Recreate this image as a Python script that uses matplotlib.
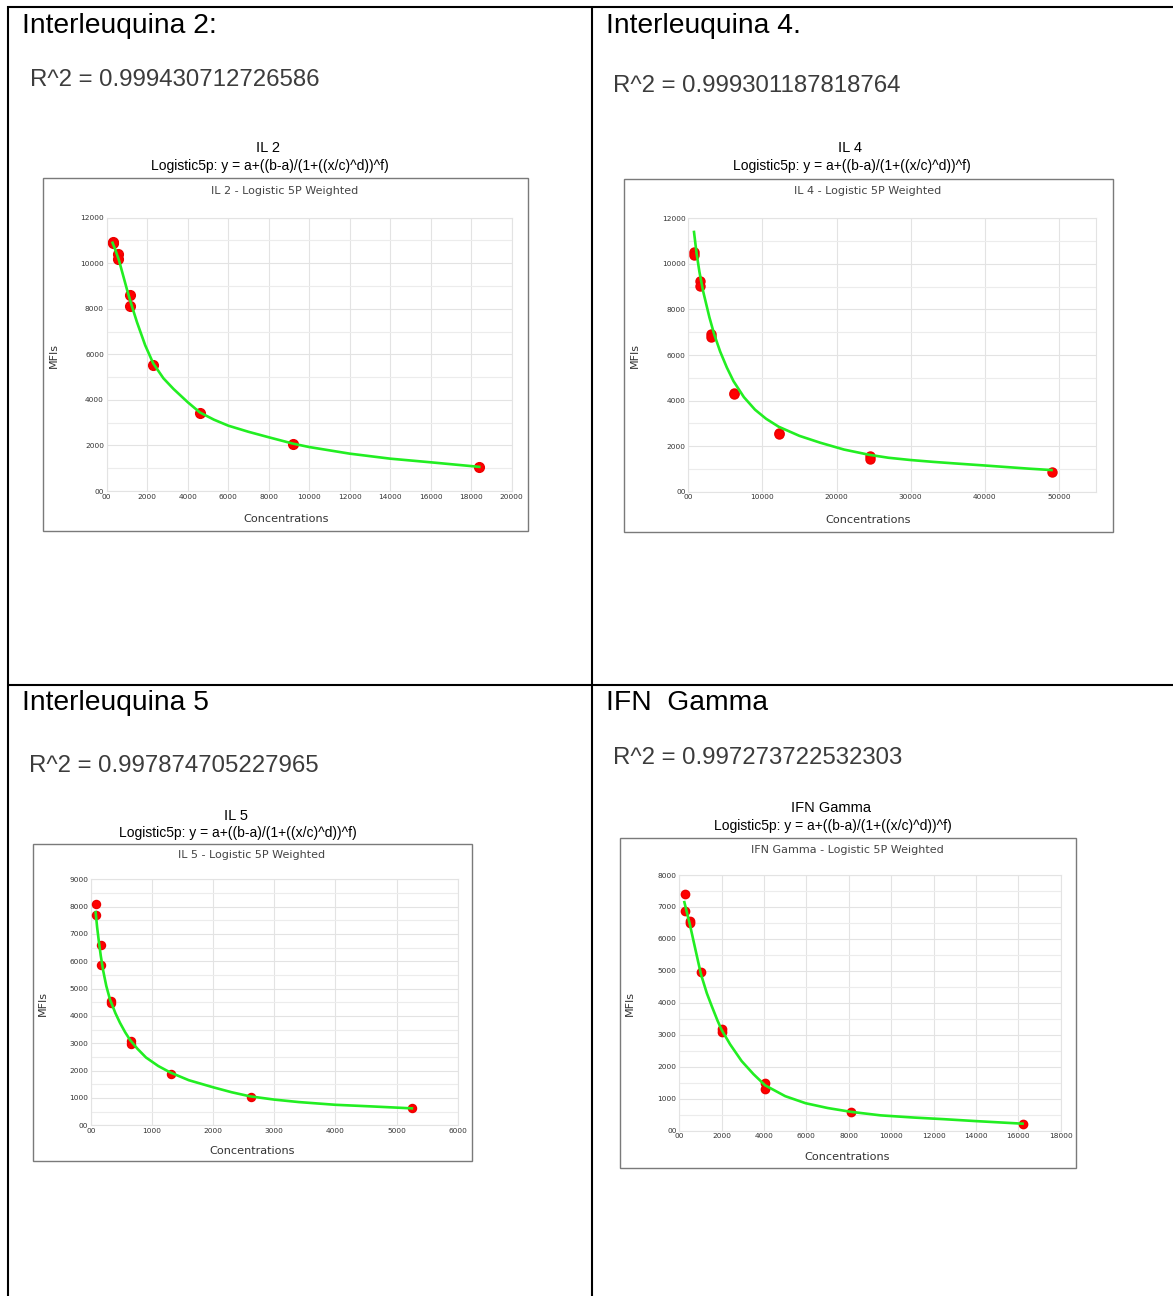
import matplotlib
matplotlib.use("Agg")
import matplotlib.pyplot as plt
from matplotlib.patches import Rectangle
from matplotlib.ticker import MultipleLocator, FuncFormatter

W, H = 1173, 1296

# IL 2
il2_conc = [288, 288, 575, 575, 1150, 1150, 2300, 4600, 9200, 18400]
il2_mfi = [10930, 10880, 10420, 10170, 8600, 8120, 5550, 3420, 2050, 1070]
il2_fit_x = [290, 400, 500, 600, 800, 1000, 1250, 1500, 1900, 2300, 2800, 3300, 4000,
             4600, 5300, 6000, 7000, 8000, 9200, 10000, 12000, 14000, 16000, 18400]
il2_fit_y = [10900, 10650, 10400, 10150, 9500, 8850, 8100, 7400, 6400, 5600, 4950, 4480, 3900,
             3450, 3130, 2870, 2600, 2360, 2080, 1930, 1640, 1420, 1260, 1060]
il2_r2 = "R^2 = 0.999430712726586"

# IL 4
il4_conc = [766, 766, 1531, 1531, 3062, 3062, 6125, 6125, 12250, 12250, 24500, 24500, 49000]
il4_mfi = [10520, 10380, 9230, 9050, 6900, 6780, 4340, 4280, 2580, 2540, 1560, 1440, 870]
il4_fit_x = [770, 1100, 1500, 2000, 2850, 3500, 4300, 5200, 6100, 7500, 9000, 10500, 12200,
             15000, 17800, 21000, 24400, 27000, 30000, 33000, 36000, 40000, 43000, 46000, 49000]
il4_fit_y = [11400, 10500, 9650, 8800, 7650, 6900, 6150, 5450, 4850, 4150, 3600, 3200, 2850,
             2450, 2150, 1850, 1620, 1490, 1390, 1310, 1240, 1150, 1080, 1010, 950]
il4_r2 = "R^2 = 0.999301187818764"

# IL 5
il5_conc = [82, 82, 164, 164, 328, 328, 656, 656, 1312, 2625, 5250]
il5_mfi = [8100, 7680, 6600, 5850, 4540, 4480, 3080, 2990, 1880, 1040, 620]
il5_fit_x = [76, 100, 130, 160, 200, 250, 311, 400, 474, 560, 640, 760, 900, 1100, 1300,
             1600, 2000, 2300, 2600, 3000, 3400, 4000, 4600, 5250]
il5_fit_y = [7800, 7250, 6700, 6200, 5650, 5100, 4600, 4100, 3750, 3400, 3120, 2800, 2480, 2170, 1930,
             1650, 1390, 1210, 1060, 940, 850, 750, 690, 620]
il5_r2 = "R^2 = 0.997874705227965"

# IFN Gamma
ifn_conc = [253, 253, 506, 506, 1012, 2025, 2025, 4050, 4050, 8100, 16200]
ifn_mfi = [7420, 6870, 6560, 6490, 4960, 3170, 3100, 1480, 1320, 600, 220]
ifn_fit_x = [240, 350, 500, 700, 1020, 1300, 1530, 1800, 2000, 2400, 2940, 3500, 4050,
             5000, 5960, 7000, 8100, 9500, 11100, 12500, 14000, 16200]
ifn_fit_y = [7150, 6850, 6450, 5850, 4900, 4300, 3900, 3450, 3150, 2700, 2180, 1770, 1420,
             1080, 860, 710, 590, 480, 410, 360, 300, 220]
ifn_r2 = "R^2 = 0.997273722532303"

fig = plt.figure(figsize=(W / 100, H / 100), dpi=100)
plt.rcParams["font.family"] = ["Liberation Sans", "DejaVu Sans"]

bg = fig.add_axes([0, 0, 1, 1])
bg.set_xlim(0, W)
bg.set_ylim(H, 0)
bg.axis("off")

# table lines
for x in [8, 592]:
    bg.plot([x, x], [6, H], color="black", lw=1.5, solid_capstyle="butt")
for y in [7, 685]:
    bg.plot([7, W], [y, y], color="black", lw=1.5, solid_capstyle="butt")


def px_axes(x0, y0, x1, y1):
    return [x0 / W, 1 - y1 / H, (x1 - x0) / W, (y1 - y0) / H]


panels = [
    dict(heading="Interleuquina 2:", hx=22, hy=26, r2=il2_r2, rx=30, ry=80,
         name="IL 2", nx=268, ny=148, ly=166,
         box=(43, 178, 528, 531), ax=(106.7, 217.7, 511.7, 491),
         xs=il2_conc, ys=il2_mfi, fx=il2_fit_x, fy=il2_fit_y,
         xlim=20000, xstep=2000, ylim=12000, ystep=2000, ms=7,
         title_xy=(285, 191), xl_xy=(286, 519), yl_xy=(54, 355)),
    dict(heading="Interleuquina 4.", hx=606, hy=26, r2=il4_r2, rx=613, ry=86,
         name="IL 4", nx=850, ny=148, ly=166,
         box=(624, 179, 1113, 532), ax=(688.3, 218.3, 1096, 491.7),
         xs=il4_conc, ys=il4_mfi, fx=il4_fit_x, fy=il4_fit_y,
         xlim=55000, xstep=10000, ylim=12000, ystep=2000, ms=6.5,
         title_xy=(868, 191), xl_xy=(868, 520), yl_xy=(635, 355)),
    dict(heading="Interleuquina 5", hx=22, hy=703, r2=il5_r2, rx=29, ry=766,
         name="IL 5", nx=236, ny=816, ly=833,
         box=(33, 844, 472, 1161), ax=(91, 879.3, 457.7, 1125.3),
         xs=il5_conc, ys=il5_mfi, fx=il5_fit_x, fy=il5_fit_y,
         xlim=6000, xstep=1000, ylim=9000, ystep=1000, ms=5.8,
         title_xy=(252, 855), xl_xy=(252, 1151), yl_xy=(43, 1003)),
    dict(heading="IFN  Gamma", hx=606, hy=703, r2=ifn_r2, rx=613, ry=758,
         name="IFN Gamma", nx=831, ny=808, ly=826,
         box=(620, 838, 1076, 1168), ax=(679.3, 875, 1060.7, 1130.7),
         xs=ifn_conc, ys=ifn_mfi, fx=ifn_fit_x, fy=ifn_fit_y,
         xlim=18000, xstep=2000, ylim=8000, ystep=1000, ms=6,
         title_xy=(847, 850), xl_xy=(847, 1157), yl_xy=(630, 1003)),
]

fmt = FuncFormatter(lambda v, pos: "00" if v == 0 else "%d" % v)

for p in panels:
    bg.text(p["hx"], p["hy"], p["heading"], fontsize=20.3, color="black",
            ha="left", va="center")
    bg.text(p["rx"], p["ry"], p["r2"], fontsize=17.3, color="#3c3c3c",
            ha="left", va="center")
    bg.text(p["nx"], p["ny"], p["name"], fontsize=10.5, ha="center", va="center")
    bg.text(p["nx"] + 2, p["ly"], "Logistic5p: y = a+((b-a)/(1+((x/c)^d))^f)",
            fontsize=10, ha="center", va="center")
    x0, y0, x1, y1 = p["box"]
    bg.add_patch(Rectangle((x0, y0), x1 - x0, y1 - y0, facecolor="white",
                           edgecolor="#7a7a7a", lw=1))
    tx, ty = p["title_xy"]
    bg.text(tx, ty, p["name"] + " - Logistic 5P Weighted", fontsize=8,
            color="#444444", ha="center", va="center", family="DejaVu Sans")
    bg.text(p["xl_xy"][0], p["xl_xy"][1], "Concentrations", fontsize=8.1,
            color="#333333", ha="center", va="center", family="DejaVu Sans")
    bg.text(p["yl_xy"][0], p["yl_xy"][1], "MFIs", fontsize=8, rotation=90,
            color="#333333", ha="center", va="center", family="DejaVu Sans")

    ax = fig.add_axes(px_axes(*p["ax"]))
    ax.set_xlim(0, p["xlim"])
    ax.set_ylim(0, p["ylim"])
    ax.xaxis.set_major_locator(MultipleLocator(p["xstep"]))
    ax.yaxis.set_major_locator(MultipleLocator(p["ystep"]))
    ax.yaxis.set_minor_locator(MultipleLocator(p["ystep"] / 2))
    ax.xaxis.set_major_formatter(fmt)
    ax.yaxis.set_major_formatter(fmt)
    ax.grid(True, which="major", color="#e3e3e3", lw=0.8)
    ax.grid(True, which="minor", axis="y", color="#ececec", lw=0.8)
    ax.set_axisbelow(True)
    for s in ax.spines.values():
        s.set_color("#e3e3e3")
        s.set_linewidth(0.8)
    ax.tick_params(which="both", length=0, labelsize=5.3, labelcolor="#333333", pad=2)
    for lab in ax.get_xticklabels() + ax.get_yticklabels():
        lab.set_family("DejaVu Sans")
    ax.plot(p["xs"], p["ys"], "o", color="#ff0000", ms=p["ms"], mec="#ee0000",
            zorder=3)
    ax.plot(p["fx"], p["fy"], color="#22ee22", lw=1.9, zorder=4)

fig.savefig("out.png", dpi=100)
